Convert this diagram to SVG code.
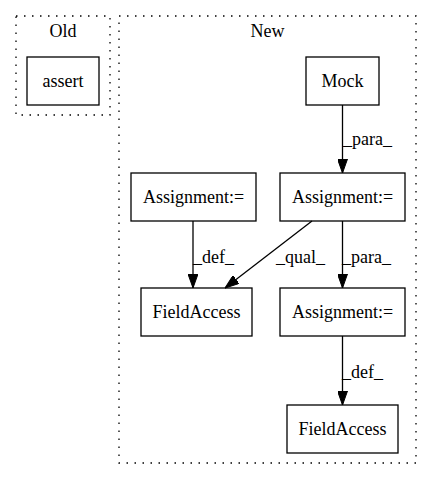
<svg xmlns="http://www.w3.org/2000/svg" width="432" height="480" viewBox="0 0 432 480">
<style>
text{font-family:"Liberation Serif","Times New Roman",serif;font-size:18px;fill:#000}
.c{text-anchor:middle}
.box{fill:none;stroke:#000;stroke-width:1.3}
.cl{fill:none;stroke:#000;stroke-width:1.3;stroke-dasharray:1.5,6.5}
.e{fill:none;stroke:#000;stroke-width:1.3}
</style>
<defs>
<marker id="ah" markerWidth="14" markerHeight="10" refX="14" refY="5" orient="auto" markerUnits="userSpaceOnUse">
<polygon points="0,0 14,5 0,10" fill="#000" stroke="#000"/>
</marker>
</defs>
<rect width="432" height="480" fill="#fff"/>
<g id="cluster_old">
<rect class="cl" x="16" y="16" width="94" height="99"/>
<text class="c" x="63" y="37">Old</text>
</g>
<g id="cluster_new">
<rect class="cl" x="119" y="16" width="297" height="447"/>
<text class="c" x="267.5" y="37">New</text>
</g>
<g id="assert">
<rect class="box" x="27" y="57" width="72" height="48"/>
<text class="c" x="63" y="87">assert</text>
</g>
<g id="mock">
<rect class="box" x="306" y="57" width="73" height="48"/>
<text class="c" x="342.5" y="87">Mock</text>
</g>
<g id="assign_left">
<rect class="box" x="131" y="173" width="125" height="48"/>
<text class="c" x="193.5" y="203">Assignment:=</text>
</g>
<g id="assign_right">
<rect class="box" x="280" y="173" width="125" height="48"/>
<text class="c" x="342.5" y="203">Assignment:=</text>
</g>
<g id="field_left">
<rect class="box" x="141" y="288" width="111" height="48"/>
<text class="c" x="196.5" y="318">FieldAccess</text>
</g>
<g id="assign_lower">
<rect class="box" x="280" y="288" width="125" height="48"/>
<text class="c" x="342.5" y="318">Assignment:=</text>
</g>
<g id="field_lower">
<rect class="box" x="287" y="405" width="111" height="48"/>
<text class="c" x="342.5" y="435">FieldAccess</text>
</g>
<g id="edges">
<line class="e" x1="342.5" y1="105" x2="342.5" y2="173" marker-end="url(#ah)"/>
<text x="343" y="145">_para_</text>
<line class="e" x1="193" y1="221" x2="193" y2="288" marker-end="url(#ah)"/>
<text x="193" y="263">_def_</text>
<line class="e" x1="312" y1="221" x2="225" y2="288" marker-end="url(#ah)"/>
<text x="276" y="263">_qual_</text>
<line class="e" x1="342.5" y1="221" x2="342.5" y2="288" marker-end="url(#ah)"/>
<text x="342" y="263">_para_</text>
<line class="e" x1="342.5" y1="336" x2="342.5" y2="405" marker-end="url(#ah)"/>
<text x="342" y="378">_def_</text>
</g>
</svg>
